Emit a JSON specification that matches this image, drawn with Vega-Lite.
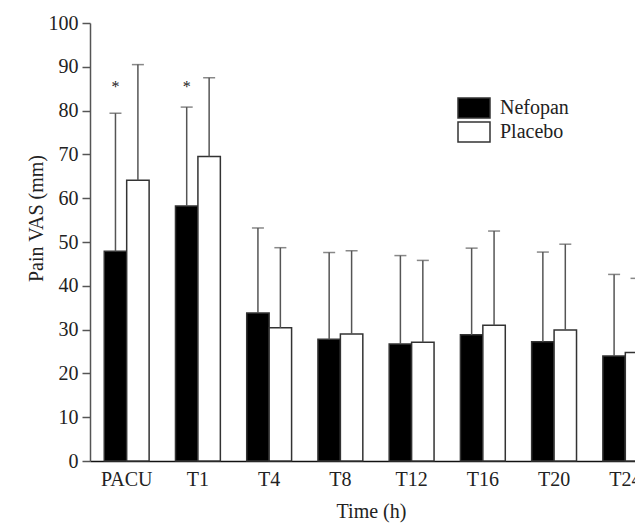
{
  "$schema": "https://vega.github.io/schema/vega-lite/v6.json",
  "autosize": {"type": "none"},
  "padding": {"left": 90, "top": 23, "right": 0, "bottom": 66},
  "width": 545,
  "height": 438,
  "background": "white",
  "config": {
    "view": {"stroke": null},
    "font": "Liberation Serif",
    "axis": {"labelFont": "Liberation Serif", "titleFont": "Liberation Serif", "labelFontSize": 20, "titleFontSize": 20, "titleFontWeight": "normal", "labelColor": "#222", "titleColor": "#222", "grid": false}
  },
  "data": {
    "values": [
      {"time": "PACU", "group": "Nefopan", "mean": 47.9, "upper": 79.4, "sig": "*"},
      {"time": "PACU", "group": "Placebo", "mean": 64.1, "upper": 90.5, "sig": ""},
      {"time": "T1", "group": "Nefopan", "mean": 58.2, "upper": 80.8, "sig": "*"},
      {"time": "T1", "group": "Placebo", "mean": 69.5, "upper": 87.5, "sig": ""},
      {"time": "T4", "group": "Nefopan", "mean": 33.8, "upper": 53.2, "sig": ""},
      {"time": "T4", "group": "Placebo", "mean": 30.4, "upper": 48.7, "sig": ""},
      {"time": "T8", "group": "Nefopan", "mean": 27.8, "upper": 47.6, "sig": ""},
      {"time": "T8", "group": "Placebo", "mean": 29.0, "upper": 48.0, "sig": ""},
      {"time": "T12", "group": "Nefopan", "mean": 26.7, "upper": 46.9, "sig": ""},
      {"time": "T12", "group": "Placebo", "mean": 27.1, "upper": 45.8, "sig": ""},
      {"time": "T16", "group": "Nefopan", "mean": 28.8, "upper": 48.6, "sig": ""},
      {"time": "T16", "group": "Placebo", "mean": 31.0, "upper": 52.5, "sig": ""},
      {"time": "T20", "group": "Nefopan", "mean": 27.2, "upper": 47.7, "sig": ""},
      {"time": "T20", "group": "Placebo", "mean": 29.9, "upper": 49.5, "sig": ""},
      {"time": "T24", "group": "Nefopan", "mean": 24.0, "upper": 42.6, "sig": ""},
      {"time": "T24", "group": "Placebo", "mean": 24.8, "upper": 41.7, "sig": ""}
    ]
  },
  "encoding": {
    "x": {
      "field": "time", "type": "nominal", "sort": null,
      "scale": {"range": [0, 572], "paddingInner": 0.37, "paddingOuter": 0.2},
      "axis": {"title": "Time (h)", "labelAngle": 0, "ticks": false, "domainColor": "#111", "domainWidth": 1.5, "labelPadding": 8, "titlePadding": 12, "titleX": 281}
    },
    "xOffset": {"field": "group", "type": "nominal", "scale": {"domain": ["Nefopan", "Placebo"], "paddingInner": 0, "paddingOuter": 0}}
  },
  "layer": [
    {
      "mark": {"type": "bar", "stroke": "#333", "strokeWidth": 1.5},
      "encoding": {
        "y": {
          "field": "mean", "type": "quantitative",
          "scale": {"domain": [0, 100], "nice": false},
          "axis": {"title": "Pain VAS (mm)", "values": [0, 10, 20, 30, 40, 50, 60, 70, 80, 90, 100], "domainColor": "#555", "domainWidth": 1.5, "tickColor": "#555", "tickWidth": 1.5, "tickSize": 8, "labelPadding": 4, "titleX": -48, "titleY": 195, "titleBaseline": "alphabetic", "titleAngle": 270, "titleAlign": "center"}
        },
        "fill": {
          "field": "group", "type": "nominal",
          "scale": {"domain": ["Nefopan", "Placebo"], "range": ["#000000", "#ffffff"]},
          "legend": {"orient": "none", "legendX": 373, "legendY": 74, "title": null, "symbolType": "M-1.6,-1H1.6V1H-1.6Z", "symbolSize": 400, "symbolStrokeColor": "#333", "symbolStrokeWidth": 1.5, "labelFont": "Liberation Serif", "labelFontSize": 20, "labelColor": "#222", "rowPadding": -2, "padding": 0, "labelOffset": 15}
        }
      }
    },
    {
      "mark": {"type": "rule", "color": "#555", "strokeWidth": 1.5},
      "encoding": {
        "y": {"field": "mean", "type": "quantitative"},
        "y2": {"field": "upper"}
      }
    },
    {
      "mark": {"type": "tick", "color": "#555", "thickness": 1.5, "size": 12, "orient": "horizontal"},
      "encoding": {
        "y": {"field": "upper", "type": "quantitative"}
      }
    },
    {
      "transform": [{"filter": "datum.sig != ''"}],
      "mark": {"type": "text", "fontSize": 16, "color": "#222", "baseline": "middle", "dy": 3},
      "encoding": {
        "y": {"datum": 86, "type": "quantitative"},
        "text": {"field": "sig"}
      }
    }
  ]
}
